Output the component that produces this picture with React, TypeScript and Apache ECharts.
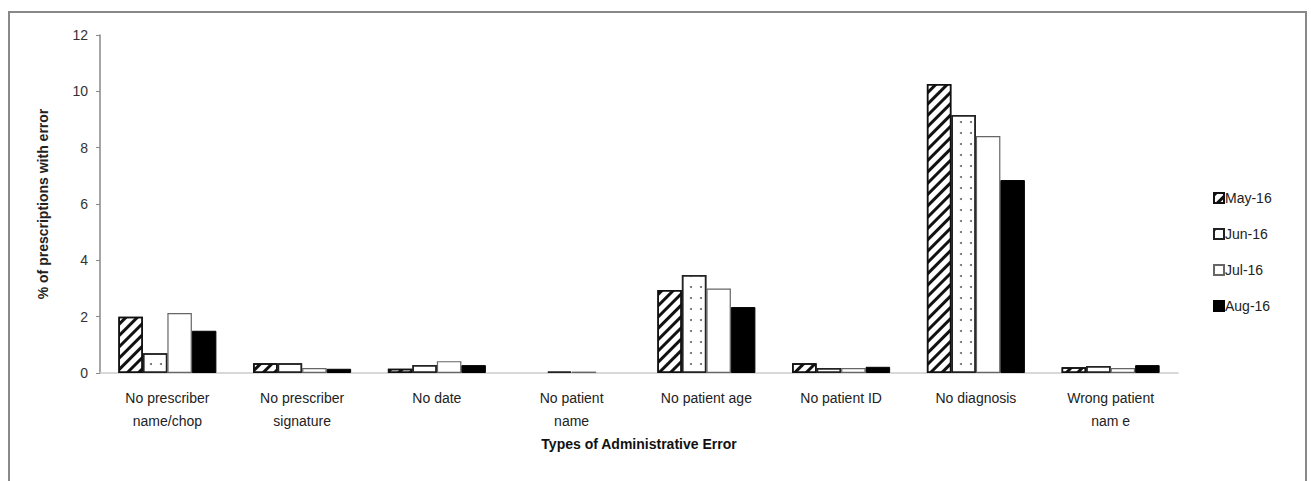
import React, { useEffect, useRef } from "react";
import * as echarts from "echarts";

const categories = [
  "No prescriber\nname/chop",
  "No prescriber\nsignature",
  "No date",
  "No patient\nname",
  "No patient age",
  "No patient ID",
  "No diagnosis",
  "Wrong patient\nnam e",
];
const seriesNames = ["May-16", "Jun-16", "Jul-16", "Aug-16"];
const may16 = [2.0, 0.35, 0.15, 0, 2.95, 0.35, 10.26, 0.2];
const jun16 = [0.7, 0.35, 0.28, 0.05, 3.48, 0.18, 9.16, 0.25];
const jul16 = [2.13, 0.18, 0.42, 0.05, 3.0, 0.18, 8.41, 0.18];
const aug16 = [1.5, 0.15, 0.28, 0, 2.34, 0.22, 6.85, 0.28];
const yTicks = [0, 2, 4, 6, 8, 10, 12];

const noZero = (arr: number[]) => arr.map((v) => (v === 0 ? "-" : v));

export default function App() {
  const ref = useRef<HTMLDivElement>(null);
  useEffect(() => {
    if (!ref.current) return;
    const chart = echarts.init(ref.current, null, { renderer: "svg" });
    const font = "Liberation Sans, Arial, sans-serif";
    const barW = 24.5;
    chart.setOption({
      animation: false,
      backgroundColor: "#fff",
      textStyle: { fontFamily: font },
      graphic: [
        {
          type: "rect",
          shape: { x: 9, y: 12, width: 1297, height: 520 },
          style: { fill: "none", stroke: "#888", lineWidth: 2 },
          silent: true,
        },
      ],
      grid: { left: 100, right: 133, top: 35, bottom: 108 },
      legend: {
        orient: "vertical",
        left: 1208,
        top: 186,
        itemWidth: 10,
        itemHeight: 10,
        itemGap: 22,
        icon: "rect",
        textStyle: { fontSize: 14, color: "#222", fontFamily: font, padding: [0, 0, 0, -4] },
        data: seriesNames,
      },
      xAxis: {
        type: "category",
        data: categories,
        name: "Types of Administrative Error",
        nameLocation: "middle",
        nameGap: 50,
        nameTextStyle: { fontSize: 14, fontWeight: "bold", color: "#111", fontFamily: font },
        axisLine: { lineStyle: { color: "#ccc", width: 1.5 } },
        axisTick: { show: false },
        axisLabel: { fontSize: 14, color: "#222", lineHeight: 23, margin: 13, interval: 0, fontFamily: font },
      },
      yAxis: {
        type: "value",
        min: 0,
        max: 12,
        interval: 2,
        name: "% of prescriptions with error",
        nameLocation: "middle",
        nameGap: 50,
        nameTextStyle: { fontSize: 14, fontWeight: "bold", color: "#222", fontFamily: font },
        axisLine: { show: true, lineStyle: { color: "#888", width: 1.5 } },
        axisTick: { show: true, length: 4, lineStyle: { color: "#888" } },
        splitLine: { show: false },
        axisLabel: {
          fontSize: 14,
          color: "#333",
          margin: 12,
          fontFamily: font,
          formatter: (v: number) => (yTicks.includes(v) ? String(v) : ""),
        },
      },
      series: [
        {
          name: seriesNames[0],
          type: "bar",
          data: noZero(may16),
          barWidth: barW,
          barGap: "0%",
          itemStyle: {
            color: "#fff",
            borderColor: "#111",
            borderWidth: 1.5,
            decal: {
              symbol: "rect",
              color: "#111",
              dashArrayX: [1, 0],
              dashArrayY: [2.5, 4.5],
              rotation: -Math.PI / 4,
              symbolSize: 1,
            },
          },
        },
        {
          name: seriesNames[1],
          type: "bar",
          data: noZero(jun16),
          barWidth: barW,
          barGap: "0%",
          itemStyle: {
            color: "#fff",
            borderColor: "#222",
            borderWidth: 1.5,
            decal: {
              symbol: "circle",
              color: "#666",
              dashArrayX: [2, 8],
              dashArrayY: [2, 9],
              symbolSize: 1,
              rotation: 0,
            },
          },
        },
        {
          name: seriesNames[2],
          type: "bar",
          data: noZero(jul16),
          barWidth: barW,
          barGap: "0%",
          itemStyle: { color: "#fff", borderColor: "#666", borderWidth: 1.2 },
        },
        {
          name: seriesNames[3],
          type: "bar",
          data: noZero(aug16),
          barWidth: barW,
          barGap: "0%",
          itemStyle: { color: "#000", borderColor: "#000", borderWidth: 1 },
        },
      ],
    });
    return () => chart.dispose();
  }, []);
  return (
    <div
      ref={ref}
      style={{ position: "absolute", left: 0, top: 0, width: 1311, height: 481 }}
    />
  );
}
